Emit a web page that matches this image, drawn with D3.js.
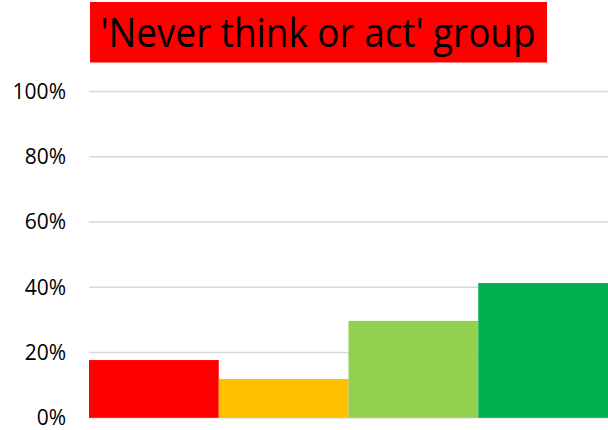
<!DOCTYPE html>
<html>
<head>
<meta charset="utf-8">
<script src="https://cdn.jsdelivr.net/npm/d3@7"></script>
<style>
  html, body { margin: 0; padding: 0; background: #fff; }
  svg { display: block; }
</style>
</head>
<body>
<svg id="chart" width="608" height="430"></svg>
<script>
// Share of respondents in each response category
const categories = ["A", "B", "C", "D"];
const values = [0.177, 0.119, 0.297, 0.413];
const barColors = ["#FF0000", "#FFC000", "#92D050", "#00B050"];
const yTicks = [0, 0.2, 0.4, 0.6, 0.8, 1.0];
const title = "'Never think or act' group";

const svg = d3.select("#chart");
const margin = { top: 91.5, right: 0, bottom: 12.2, left: 89 };
const W = 608, H = 430;

const x = d3.scaleBand()
  .domain(categories)
  .range([margin.left, W - margin.right])
  .padding(0);

const y = d3.scaleLinear()
  .domain([0, 1])
  .range([H - margin.bottom, margin.top]);

// gridlines
svg.append("g")
  .selectAll("line")
  .data(yTicks)
  .join("line")
  .attr("x1", margin.left)
  .attr("x2", W - margin.right)
  .attr("y1", d => y(d))
  .attr("y2", d => y(d))
  .attr("stroke", "#D9D9D9")
  .attr("stroke-width", 1.5);

// bars
svg.append("g")
  .selectAll("rect")
  .data(values)
  .join("rect")
  .attr("x", (d, i) => x(categories[i]))
  .attr("width", x.bandwidth())
  .attr("y", d => y(d))
  .attr("height", d => y(0) - y(d))
  .attr("fill", (d, i) => barColors[i]);

// y axis labels
const yAxis = d3.axisLeft(y)
  .tickValues(yTicks)
  .tickFormat(d3.format(".0%"))
  .tickSize(0)
  .tickPadding(0);

const gy = svg.append("g")
  .attr("transform", `translate(66,0)`)
  .call(yAxis);
gy.select(".domain").remove();
gy.selectAll("text")
  .attr("font-family", "'Open Sans', sans-serif")
  .attr("font-size", 21)
  .attr("fill", "#000")
  .attr("dy", "0.32em");

// title banner
svg.append("rect")
  .attr("x", 90)
  .attr("y", 2)
  .attr("width", 457)
  .attr("height", 60.5)
  .attr("fill", "#FF0000");

svg.append("text")
  .attr("x", 318)
  .attr("y", 47)
  .attr("text-anchor", "middle")
  .attr("font-family", "'Open Sans', sans-serif")
  .attr("font-size", 41)
  .attr("fill", "#000")
  .attr("textLength", 435)
  .attr("lengthAdjust", "spacingAndGlyphs")
  .text(title);
</script>
</body>
</html>
